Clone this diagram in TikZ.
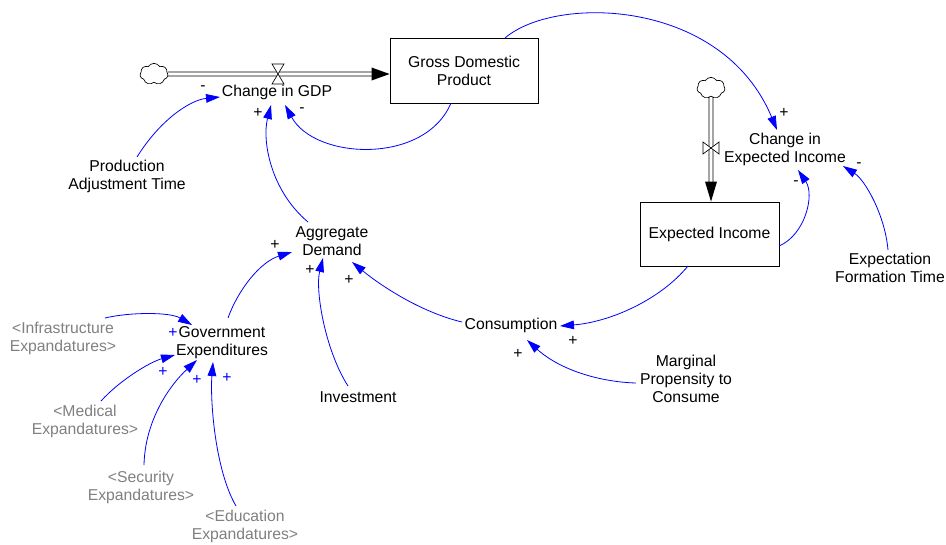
\documentclass[tikz,border=0pt]{standalone}
\usepackage{fontspec}
\setmainfont{Liberation Sans}
\usetikzlibrary{arrows.meta,shapes.symbols,calc}
\definecolor{vblue}{RGB}{0,0,255}
\definecolor{vgray}{RGB}{128,128,128}
\newcommand\vfont{\fontsize{11.8}{13.5}\selectfont}
\begin{document}
\begin{tikzpicture}[x=0.75pt,y=-0.75pt,
  var/.style={align=center,inner sep=1pt,font=\vfont},
  ghost/.style={var,text=vgray},
  stock/.style={draw,line width=0.6pt,minimum width=111pt,minimum height=48.75pt,align=center,font=\vfont},
  link/.style={vblue,line width=0.6pt,-{Triangle[length=10.5pt,width=6.5pt]}},
  pol/.style={font=\vfont,inner sep=0pt},
  bpol/.style={pol,text=vblue},
  pipeline/.style={line width=0.55pt,black},
  src/.style={cloud,cloud puffs=7,cloud puff arc=120,cloud ignores aspect,draw,fill=white,inner sep=0pt,minimum width=21pt,minimum height=16pt,line width=0.5pt},
  valvest/.style={draw,fill=white,line width=0.5pt}]
\path[use as bounding box] (0,0) rectangle (946,544);

% stocks
\node[stock] (gdp) at (464,70.5) {Gross Domestic\\Product};
\node[stock,minimum width=104.25pt,minimum height=48pt] (ei) at (709.5,234) {Expected Income};

% clouds, valves
\node[src] (cloud1) at (154,74) {};
\node[src] (cloud2) at (711,88) {};
\coordinate (valve1) at (278,74);
\coordinate (valve2) at (711,148);

% flow pipes
\draw[pipeline] ($(cloud1.east)+(0,-2)$) -- ($(gdp.west |- cloud1)+(-16,-2)$);
\draw[pipeline] ($(cloud1.east)+(0,2)$) -- ($(gdp.west |- cloud1)+(-16,2)$);
\fill ($(gdp.west |- cloud1)+(-18,-6.5)$) -- (gdp.west |- cloud1) -- ($(gdp.west |- cloud1)+(-18,6.5)$) -- cycle;
\draw[valvest] ($(valve1)+(-6,-10)$) -- ($(valve1)+(6,-10)$) -- ($(valve1)+(-6,10)$) -- ($(valve1)+(6,10)$) -- cycle;

\draw[pipeline] ($(cloud2.south)+(-2,0)$) -- ($(cloud2 |- ei.north)+(-2,-18)$);
\draw[pipeline] ($(cloud2.south)+(2,0)$) -- ($(cloud2 |- ei.north)+(2,-18)$);
\fill ($(cloud2 |- ei.north)+(-6,-20)$) -- (cloud2 |- ei.north) -- ($(cloud2 |- ei.north)+(6,-20)$) -- cycle;
\draw[valvest] ($(valve2)+(-8,-6)$) -- ($(valve2)+(-8,6)$) -- ($(valve2)+(8,-6)$) -- ($(valve2)+(8,6)$) -- cycle;

% variables
\node[var] (cgdp) at (277,92) {Change in GDP};
\node[var] (cei) at (785,149) {Change in\\Expected Income};
\node[var] (pat) at (127,176) {Production\\Adjustment Time};
\node[var] (eft) at (890,268) {Expectation\\Formation Time};
\node[var] (ad) at (332,241) {Aggregate\\Demand};
\node[var] (ge) at (222,343) {Government\\Expenditures};
\node[var] (inv) at (358,397) {Investment};
\node[var] (cons) at (511,325) {Consumption};
\node[var] (mpc) at (686,379) {Marginal\\Propensity to\\Consume};
\node[ghost] (infra) at (63,338) {<Infrastructure\\Expandatures>};
\node[ghost] (med) at (85,421) {<Medical\\Expandatures>};
\node[ghost] (sec) at (141,487) {<Security\\Expandatures>};
\node[ghost] (edu) at (245,526) {<Education\\Expandatures>};

% links
\draw[link] ($(gdp)+(41,-32.5)$) .. controls (555,-5) and (722,-2) .. ($(cei)+(-8,-19)$);
\draw[link] ($(gdp)+(-13,32.5)$) .. controls (425,165) and (315,160) .. ($(cgdp)+(8,13)$);
\draw[link] ($(pat)+(10,-19)$) .. controls (160,120) and (190,100) .. ($(cgdp)+(-57,5)$);
\draw[link] ($(ad)+(-24,-19)$) .. controls (270,190) and (262,140) .. ($(cgdp)+(-6,13)$);
\draw[link] ($(ge)+(6,-25)$) .. controls (238,290) and (260,262) .. ($(ad)+(-40,11)$);
\draw[link] ($(inv)+(-10,-11)$) .. controls (325,350) and (315,290) .. ($(ad)+(-9,17)$);
\draw[link] ($(cons)+(-49,-3)$) .. controls (420,312) and (380,285) .. ($(ad)+(20,21)$);
\draw[link] ($(ei)+(-21.5,32)$) .. controls (660,300) and (610,322) .. ($(cons)+(49,1)$);
\draw[link] ($(mpc)+(-50,4)$) .. controls (600,382) and (560,370) .. ($(cons)+(16,15)$);
\draw[link] ($(ei)+(69.5,12)$) .. controls (805,235) and (815,195) .. ($(cei)+(13,21)$);
\draw[link] ($(eft)+(-2,-18)$) .. controls (885,215) and (865,180) .. ($(cei)+(58,17)$);
\draw[link] ($(infra)+(42,-20)$) .. controls (130,312) and (170,312) .. ($(ge)+(-30,-18)$);
\draw[link] ($(med)+(16,-20)$) .. controls (120,380) and (150,362) .. ($(ge)+(-47,12)$);
\draw[link] ($(sec)+(3,-22)$) .. controls (145,420) and (170,385) .. ($(ge)+(-25,17)$);
\draw[link] ($(edu)+(-9,-20)$) .. controls (215,470) and (210,400) .. ($(ge)+(-9,19)$);

% polarities
\node[pol] (p1) at (203,88) {-};
\node[pol] (p2) at (258,113) {+};
\node[pol] (p3) at (302,110) {-};
\node[pol] (p4) at (784,113) {+};
\node[pol] (p5) at (796,183) {-};
\node[pol] (p6) at (859,165) {-};
\node[pol] (p7) at (275,245) {+};
\node[pol] (p8) at (310,270) {+};
\node[pol] (p9) at (349,280) {+};
\node[pol] (p10) at (573,341) {+};
\node[pol] (p11) at (518,354) {+};
\node[bpol] (p12) at (173,333) {+};
\node[bpol] (p13) at (163,372) {+};
\node[bpol] (p14) at (197,380) {+};
\node[bpol] (p15) at (227,378) {+};
\end{tikzpicture}
\end{document}
